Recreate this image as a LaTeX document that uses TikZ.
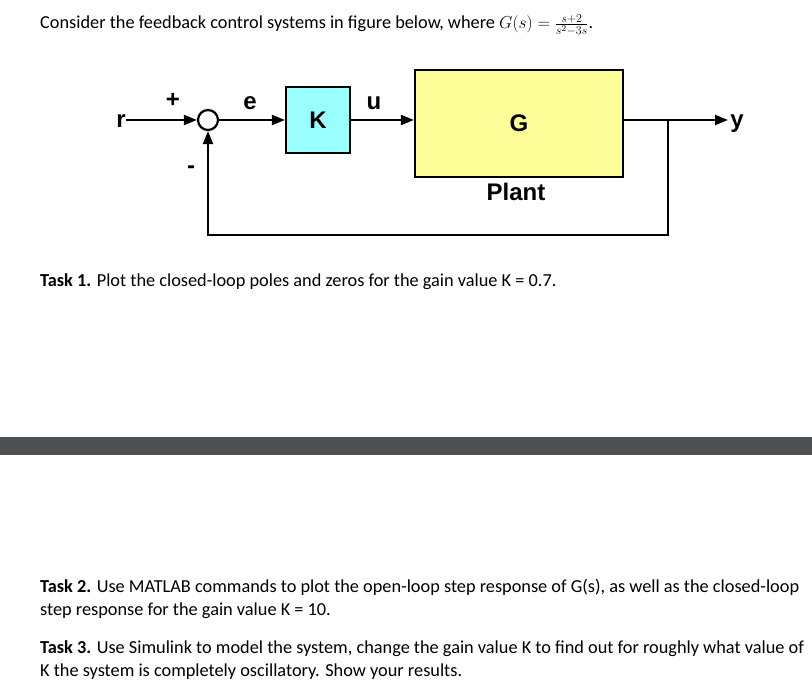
\documentclass[tikz,border=0pt]{standalone}
\usepackage{fontspec}
\setmainfont{Carlito}
\newfontfamily\arialf{Liberation Sans}
\usetikzlibrary{arrows.meta}
\definecolor{kc}{HTML}{99FFFF}
\definecolor{gc}{HTML}{FFFF99}
\definecolor{bar}{HTML}{4E5154}
\begin{document}
\begin{tikzpicture}[x=1pt,y=-1pt,
  txt/.style={anchor=base west,inner sep=0pt,font=\fontsize{18.3}{21}\selectfont},
  lbl/.style={font=\arialf\bfseries\fontsize{24}{28}\selectfont,inner sep=0pt},
  blk/.style={draw,line width=2.2pt},
  sig/.style={line width=2.2pt,-{Triangle[length=13pt,width=10pt]}}]
\clip (0,0) rectangle (812,698);
\fill[white] (0,0) rectangle (812,698);
\node[txt] (t0) at (40,29) {Consider the feedback control systems in figure below, where $G(s)=\frac{s+2}{s^2-3s}$.};
\node[circle,draw,line width=2.2pt,minimum size=20pt,inner sep=0pt] (sum) at (208,120) {};
\node[blk,fill=kc,minimum width=64pt,minimum height=66pt,lbl] (K) at (318,120) {K};
\node[blk,fill=gc,minimum width=208pt,minimum height=107pt,lbl] (G) at (519,123.5) {G};
\node[lbl] (r) at (121,121) {r};
\node[lbl] (y) at (737,124) {y};
\node[lbl] (plus) at (173,100) {+};
\node[lbl] (minus) at (191,170) {-};
\node[lbl] (e) at (250,103) {e};
\node[lbl] (u) at (374,103) {u};
\node[lbl] (plant) at (516,192) {Plant};
\coordinate (br) at (668,120);
\coordinate (yend) at (728,120);
\coordinate (c1) at (668,235);
\coordinate (c2) at (208,235);
\draw[sig] (r.east |- sum) -- (sum.west);
\draw[sig] (sum.east) -- (K.west);
\draw[sig] (K.east) -- (G.west |- K.east);
\draw[sig] (G.east |- br) -- (yend);
\draw[sig] (br) -- (c1) -- (c2) -- (sum.south);
\node[txt] (t1) at (40,286) {\textbf{Task 1.} Plot the closed-loop poles and zeros for the gain value K = 0.7.};
\fill[bar] (0,437) rectangle (812,455);
\node[txt] (t2) at (40,592) {\textbf{Task 2.} Use MATLAB commands to plot the open-loop step response of G(s), as well as the closed-loop};
\node[txt] (t2b) at (40,615) {step response for the gain value K = 10.};
\node[txt] (t3) at (40,653) {\textbf{Task 3.} Use Simulink to model the system, change the gain value K to find out for roughly what value of};
\node[txt] (t3b) at (40,676) {K the system is completely oscillatory. Show your results.};
\end{tikzpicture}
\end{document}
